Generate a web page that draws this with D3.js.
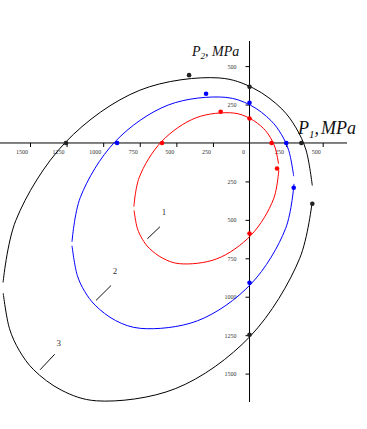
<!doctype html>
<html lang="en">
  <head>
    <meta charset="utf-8">
    <title>P1 - P2 curves</title>
    <style>
      body { margin: 0; background: #fff; }
      .tick text { font-family: "Liberation Serif", "DejaVu Serif", serif; font-size: 6px; fill: #333; }
      .axis-title { font-family: "Liberation Serif", serif; font-style: italic; fill: #111; }
    </style>
  </head>
  <body>
    <script src="https://cdn.jsdelivr.net/npm/d3@7"></script>
    <script>

    // tick values (MPa), labels are printed without sign
    const p1Ticks = [-1500, -1250, -1000, -750, -500, -250, 0, 250, 500];
    const p2Ticks = [500, 250, -250, -500, -750, -1000, -1250, -1500];

    // curves, [P1, P2] in MPa, upper and lower branch
    const curve1Upper = [[-790,-414],[-754,-225],[-600,10],[-365,164],[-110,195],[2,160],[95,95],[142,36],[176,-33],[198,-135]];
    const curve1Lower = [[200,-176],[164,-365],[10,-600],[-225,-754],[-480,-785],[-592,-750],[-685,-685],[-732,-626],[-766,-557],[-789,-439]];

    const curve2Upper = [[-1213,-643],[-1156,-354],[-918,9],[-555,247],[-166,297],[6,246],[146,146],[217,57],[268,-49],[302,-216]];
    const curve2Lower = [[304,-266],[247,-555],[9,-918],[-354,-1156],[-743,-1206],[-915,-1155],[-1055,-1055],[-1126,-966],[-1177,-861],[-1213,-668]];

    const curve3Upper = [[-1684,-907],[-1597,-504],[-1258,4],[-750,343],[-208,423],[29,355],[221,221],[318,98],[386,-46],[429,-277]];
    const curve3Lower = [[428,-383],[343,-750],[4,-1258],[-504,-1597],[-1046,-1677],[-1283,-1609],[-1475,-1475],[-1572,-1352],[-1640,-1208],[-1683,-977]];

    // marked points on each curve
    const curve1Dots = [[-598,0],[151,0],[0,159],[0,-589],[-197,203],[188,-166]];
    const curve2Dots = [[-905,0],[251,0],[0,261],[0,-909],[-297,320],[302,-291]];
    const curve3Dots = [[-1254,0],[354,0],[0,365],[0,-1247],[-413,441],[429,-395]];

    // curve numbers with their leader lines (label point, line start, line end)
    const curveLabels = ["1", "2", "3"];
    const labelPos   = [[-584,-452], [-919,-842], [-1304,-1304]];
    const leaderFrom = [[-698,-623], [-1049,-1024], [-1431,-1475]];
    const leaderTo   = [[-612,-545], [-946,-927], [-1331,-1374]];

    const width = 367, height = 429;

    const svg = d3.select('body')
        .append('svg')
        .attr('width', width)
        .attr('height', height);

    const x = d3.scaleLinear().domain([-1500, 500]).range([30, 322.7]);
    const y = d3.scaleLinear().domain([-1500, 500]).range([373.6, 66.1]);

    // axis lines across the whole frame
    svg.append('line')
      .attr('x1', 0).attr('x2', 347)
      .attr('y1', y(0)).attr('y2', y(0))
      .attr('stroke', '#000').attr('stroke-width', 1);

    svg.append('line')
      .attr('x1', x(0)).attr('x2', x(0))
      .attr('y1', 41).attr('y2', 402)
      .attr('stroke', '#000').attr('stroke-width', 1);

    const xAxis = svg.append('g')
      .attr('transform', `translate(0,${y(0)})`)
      .call(d3.axisBottom(x).tickValues(p1Ticks).tickSize(4).tickFormat(d => Math.abs(d)));
    xAxis.select('.domain').remove();
    xAxis.selectAll('.tick text')
      .attr('text-anchor', 'end')
      .attr('x', d => d === 0 ? -5 : -2.5);
    xAxis.selectAll('.tick line').filter(d => d === 0).remove();

    const yAxis = svg.append('g')
      .attr('transform', `translate(${x(0)},0)`)
      .call(d3.axisLeft(y).tickValues(p2Ticks).tickSize(4).tickPadding(9).tickFormat(d => Math.abs(d)));
    yAxis.select('.domain').remove();

    // axis titles
    const t2 = svg.append('text').attr('class', 'axis-title')
      .attr('x', 192).attr('y', 56).style('font-size', '14px');
    t2.append('tspan').text('P');
    t2.append('tspan').attr('dy', 3).style('font-size', '9px').text('2');
    t2.append('tspan').attr('dy', -3).text(', MPa');

    const t1 = svg.append('text').attr('class', 'axis-title')
      .attr('x', 298).attr('y', 134).style('font-size', '18px');
    t1.append('tspan').text('P');
    t1.append('tspan').attr('dy', 4).style('font-size', '11px').text('1');
    t1.append('tspan').attr('dy', -4).text(',');
    t1.append('tspan').attr('dx', 2).text('MPa');

    const line = d3.line()
      .x(d => x(d[0]))
      .y(d => y(d[1]))
      .curve(d3.curveCatmullRom.alpha(0.5));

    const curves = [
      {branches: [curve1Upper, curve1Lower], dots: curve1Dots, color: '#ff0000'},
      {branches: [curve2Upper, curve2Lower], dots: curve2Dots, color: '#0000ff'},
      {branches: [curve3Upper, curve3Lower], dots: curve3Dots, color: '#000000'}
    ];

    curves.forEach(function(c){
      svg.selectAll(null)
        .data(c.branches)
        .join('path')
        .attr('d', line)
        .attr('fill', 'none')
        .attr('stroke', c.color)
        .attr('stroke-width', 1);

      svg.selectAll(null)
        .data(c.dots)
        .join('circle')
        .attr('cx', d => x(d[0]))
        .attr('cy', d => y(d[1]))
        .attr('r', 2.3)
        .attr('fill', c.color === '#000000' ? '#222' : c.color);
    });

    // numbered leaders
    svg.selectAll('line.leader')
      .data(curveLabels)
      .join('line')
      .attr('class', 'leader')
      .attr('x1', (d, i) => x(leaderFrom[i][0]))
      .attr('y1', (d, i) => y(leaderFrom[i][1]))
      .attr('x2', (d, i) => x(leaderTo[i][0]))
      .attr('y2', (d, i) => y(leaderTo[i][1]))
      .attr('stroke', '#111')
      .attr('stroke-width', 1);

    svg.selectAll('text.num')
      .data(curveLabels)
      .join('text')
      .attr('class', 'num')
      .attr('x', (d, i) => x(labelPos[i][0]))
      .attr('y', (d, i) => y(labelPos[i][1]))
      .attr('text-anchor', 'middle')
      .attr('dominant-baseline', 'middle')
      .style('font-family', '"Liberation Serif", serif')
      .style('font-size', '9px')
      .style('fill', '#333')
      .text(d => d);

    </script>
  </body>
</html>
